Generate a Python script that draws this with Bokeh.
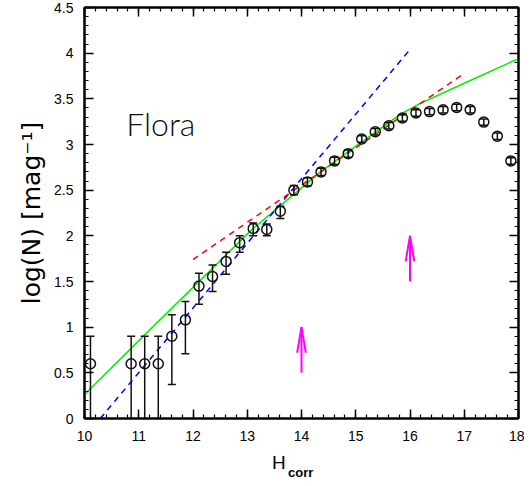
from bokeh.plotting import figure
from bokeh.models import (LinearAxis, SingleIntervalTicker, Label, Range1d,
                          ColumnDataSource, CustomLabelingPolicy, Div)
from bokeh.layouts import column
from bokeh.embed import file_html
from bokeh.resources import INLINE

# ---------------- data ----------------
h_corr = [10.11, 10.86, 11.11, 11.36, 11.61, 11.86, 12.11, 12.36, 12.61, 12.86,
          13.11, 13.36, 13.61, 13.86, 14.11, 14.36, 14.61, 14.86, 15.11, 15.36,
          15.61, 15.86, 16.11, 16.36, 16.61, 16.86, 17.11, 17.36, 17.61, 17.86]
log_n = [0.60, 0.60, 0.60, 0.60, 0.90, 1.08, 1.45, 1.555, 1.72, 1.925,
         2.08, 2.07, 2.27, 2.50, 2.59, 2.70, 2.82, 2.90, 3.06, 3.14,
         3.205, 3.29, 3.345, 3.36, 3.38, 3.405, 3.38, 3.245, 3.09, 2.82]
err_upper = [0.90, 0.90, 0.90, 0.90, 1.135, 1.28, 1.59, 1.68, 1.82, 2.00,
             2.14, 2.13, 2.325, 2.55, 2.635, 2.74, 2.86, 2.94, 3.095, 3.175,
             3.24, 3.325, 3.38, 3.395, 3.415, 3.44, 3.415, 3.28, 3.125, 2.855]
err_lower = [0.0, 0.0, 0.0, 0.0, 0.372, 0.71, 1.25, 1.39, 1.58, 1.82,
             2.00, 2.00, 2.19, 2.45, 2.545, 2.66, 2.78, 2.86, 3.025, 3.105,
             3.17, 3.255, 3.31, 3.325, 3.345, 3.37, 3.345, 3.21, 3.055, 2.785]

# green solid fit
green_h = [10.0, 11.1, 13.07, 13.43, 14.35, 14.81, 15.82, 16.19, 17.0, 18.0]
green_logn = [0.263, 0.91, 2.06, 2.24, 2.70, 2.90, 3.33, 3.45, 3.67, 3.94]

# blue dashed line (start / end)
blue_h = [10.29, 16.0]
blue_logn = [0.0, 4.04]

# red dashed line (start / end)
red_h = [12.0, 16.99]
red_logn = [1.74, 3.775]

# magenta arrows
arrow_h = [14.0, 16.0]
arrow_base = [0.5, 1.5]
arrow_tip = [1.0, 2.0]

xtick_values = [10, 11, 12, 13, 14, 15, 16, 17, 18]
xtick_labels = ["10", "11", "12", "13", "14", "15", "16", "17", "18"]
ytick_values = [0, 0.5, 1, 1.5, 2, 2.5, 3, 3.5, 4, 4.5]
ytick_labels = ["0", "0.5", "1", "1.5", "2", "2.5", "3", "3.5", "4", "4.5"]

# ---------------- figure ----------------
p = figure(width=524, height=450, x_range=Range1d(10, 18), y_range=Range1d(0, 4.5),
           output_backend="svg", toolbar_location=None,
           min_border_left=84, min_border_right=6, min_border_top=7, min_border_bottom=32)
p.xgrid.visible = False
p.ygrid.visible = False
p.outline_line_color = "black"
p.outline_line_width = 2
p.background_fill_color = "white"

def style_axis(ax):
    ax.axis_line_width = 2
    ax.axis_line_color = "black"
    ax.major_tick_in = 9
    ax.major_tick_out = 0
    ax.minor_tick_in = 4
    ax.minor_tick_out = 0
    ax.major_tick_line_width = 1.5
    ax.minor_tick_line_width = 1.2
    ax.major_tick_line_color = "black"
    ax.minor_tick_line_color = "black"
    ax.major_label_text_font = "Liberation Sans"
    ax.major_label_text_font_size = "14px"
    ax.major_label_text_color = "black"

xt = SingleIntervalTicker(interval=1, num_minor_ticks=5)
yt = SingleIntervalTicker(interval=0.5, num_minor_ticks=5)

xa = p.xaxis[0]
ya = p.yaxis[0]
xa.ticker = xt
ya.ticker = yt
style_axis(xa)
style_axis(ya)
xa.major_label_overrides = dict(zip(xtick_values, xtick_labels))
ya.major_label_overrides = dict(zip(ytick_values, ytick_labels))
xa.major_label_standoff = 12
ya.major_label_standoff = 11
ya.axis_label = "log(N) [mag\u207b\u00b9]"
ya.axis_label_text_font = "DejaVu Sans"
ya.axis_label_text_font_size = "25px"
ya.axis_label_text_font_style = "normal"
ya.axis_label_text_color = "black"
ya.axis_label_standoff = 5

hide_labels = CustomLabelingPolicy(code="for (const i of indices) { indices.unset(i) }\nreturn indices")
top = LinearAxis(ticker=xt)
right = LinearAxis(ticker=yt)
for ax in (top, right):
    style_axis(ax)
    ax.major_label_text_font_size = "1px"
    ax.major_label_standoff = 0
    ax.major_label_policy = hide_labels
p.add_layout(top, "above")
p.add_layout(right, "right")

# ---------------- lines ----------------
p.line(green_h, green_logn, line_color="#00ee00", line_width=1.5)
p.line(blue_h, blue_logn, line_color="#0000ff", line_width=1.5, line_dash="6 5")
p.line(red_h, red_logn, line_color="#ff0000", line_width=1.5, line_dash="6 5")

# ---------------- error bars and points ----------------
src = ColumnDataSource(dict(x=h_corr, y=log_n, up=err_upper, lo=err_lower))
p.segment(x0="x", y0="lo", x1="x", y1="up", source=src, line_color="#111111", line_width=1.5)
p.scatter(x="x", y="up", source=src, marker="dash", size=8, line_color="#111111", line_width=1.5)
lo_x = [h for h, l in zip(h_corr, err_lower) if l > 0]
lo_y = [l for l in err_lower if l > 0]
p.scatter(lo_x, lo_y, marker="dash", size=8, line_color="#111111", line_width=1.5)
p.scatter(x="x", y="y", source=src, marker="circle", size=10, fill_color=None,
          line_color="#111111", line_width=1.5)

# ---------------- arrows ----------------
p.segment(x0=arrow_h, y0=arrow_base, x1=arrow_h, y1=arrow_tip, line_color="#ff00ff", line_width=2)
p.segment(x0=arrow_h, y0=arrow_tip, x1=[h - 0.08 for h in arrow_h], y1=[t - 0.28 for t in arrow_tip],
          line_color="#ff00ff", line_width=2)
p.segment(x0=arrow_h, y0=arrow_tip, x1=[h + 0.08 for h in arrow_h], y1=[t - 0.28 for t in arrow_tip],
          line_color="#ff00ff", line_width=2)

# ---------------- texts ----------------
p.add_layout(Label(x=10.769, y=3.233, text="Flora",
                   text_font="Lato Light, Roboto Light, DejaVu Sans",
                   text_font_size="32px", text_color="#111111", text_baseline="alphabetic"))

xlabel = Div(
    text=('<div style="position:relative;width:524px;height:36px;">'
          '<span style="position:absolute;left:272px;top:3px;line-height:1;'
          'font-family:\'Liberation Sans\';font-size:19px;color:black;">H</span>'
          '<span style="position:absolute;left:288px;top:16px;line-height:1;'
          'font-family:\'Liberation Sans\';font-size:13px;font-weight:bold;color:black;">corr</span>'
          '</div>'),
    width=524, height=36, margin=0)

layout = column(p, xlabel, spacing=0)
open("out.html", "w").write(file_html(layout, INLINE))
